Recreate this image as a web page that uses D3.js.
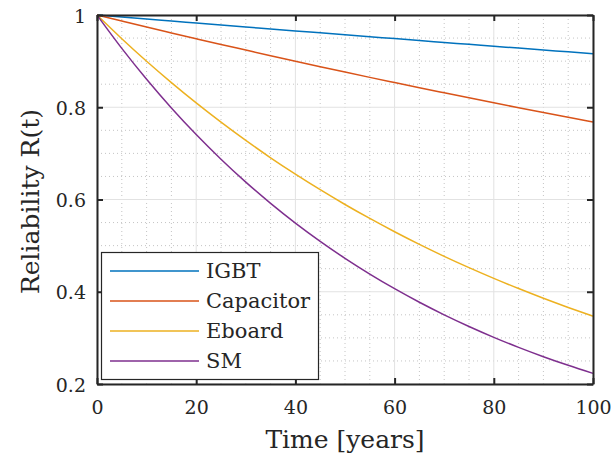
<!DOCTYPE html>
<html>
<head>
<meta charset="utf-8">
<script src="https://cdn.jsdelivr.net/npm/d3@7"></script>
<style>
  html, body { margin: 0; padding: 0; background: #fff; }
  svg { display: block; }
  svg text { font-family: "DejaVu Serif"; }
</style>
</head>
<body>
<svg id="chart" width="611" height="457"></svg>
<script>
// ---- data ----
const years = [0, 5, 10, 15, 20, 25, 30, 35, 40, 45, 50, 55, 60, 65, 70, 75, 80, 85, 90, 95, 100];
const igbt = [1, 0.9956, 0.9913, 0.9869, 0.9826, 0.9783, 0.9740, 0.9698, 0.9655, 0.9613, 0.9571, 0.9529, 0.9488, 0.9446, 0.9405, 0.9364, 0.9323, 0.9282, 0.9241, 0.9201, 0.916];
const capacitor = [1, 0.9869, 0.9739, 0.9612, 0.9486, 0.9361, 0.9239, 0.9117, 0.8998, 0.8880, 0.8763, 0.8648, 0.8535, 0.8423, 0.8313, 0.8204, 0.8096, 0.7990, 0.7885, 0.7782, 0.768];
const eboard = [1, 0.9485, 0.8996, 0.8533, 0.8093, 0.7676, 0.7280, 0.6905, 0.6550, 0.6212, 0.5892, 0.5589, 0.5301, 0.5027, 0.4768, 0.4523, 0.4290, 0.4069, 0.3859, 0.3660, 0.347];
const sm = [1, 0.9277, 0.8607, 0.7985, 0.7408, 0.6873, 0.6376, 0.5916, 0.5488, 0.5092, 0.4724, 0.4383, 0.4066, 0.3772, 0.3499, 0.3247, 0.3012, 0.2794, 0.2592, 0.2405, 0.223];
const seriesNames = ["IGBT", "Capacitor", "Eboard", "SM"];
const seriesColors = ["#0072BD", "#D95319", "#EDB120", "#7E2F8E"];
const xTicks = [0, 20, 40, 60, 80, 100];
const yTicks = [0.2, 0.4, 0.6, 0.8, 1];
const yTickLabels = ["0.2", "0.4", "0.6", "0.8", "1"];
const xLabel = "Time [years]";
const yLabel = "Reliability R(t)";

const seriesData = [igbt, capacitor, eboard, sm];

// ---- layout ----
const svg = d3.select("#chart");
const L = 97, R = 593, T = 15, B = 384;
const x = d3.scaleLinear().domain([0, 100]).range([L, R]);
const y = d3.scaleLinear().domain([0.2, 1]).range([B, T]);
const axisColor = "#262626";

// minor grid
const xMinor = d3.range(0, 101, 5).filter(v => v % 20 !== 0);
const yMinor = d3.range(0.2, 1.0001, 0.05).filter(v => Math.abs(v * 5 - Math.round(v * 5)) > 1e-6);
const gGrid = svg.append("g");
gGrid.selectAll("line.xmin").data(xMinor).join("line")
  .attr("x1", d => x(d)).attr("x2", d => x(d)).attr("y1", T).attr("y2", B)
  .attr("stroke", "#c4c4c4").attr("stroke-width", 1).attr("stroke-dasharray", "1,3");
gGrid.selectAll("line.ymin").data(yMinor).join("line")
  .attr("y1", d => y(d)).attr("y2", d => y(d)).attr("x1", L).attr("x2", R)
  .attr("stroke", "#c4c4c4").attr("stroke-width", 1).attr("stroke-dasharray", "1,3");
// major grid
gGrid.selectAll("line.xmaj").data(xTicks).join("line")
  .attr("x1", d => x(d)).attr("x2", d => x(d)).attr("y1", T).attr("y2", B)
  .attr("stroke", "#e2e2e2").attr("stroke-width", 1);
gGrid.selectAll("line.ymaj").data(yTicks).join("line")
  .attr("y1", d => y(d)).attr("y2", d => y(d)).attr("x1", L).attr("x2", R)
  .attr("stroke", "#e2e2e2").attr("stroke-width", 1);

// lines
const line = d3.line().x((d, i) => x(years[i])).y(d => y(d)).curve(d3.curveMonotoneX);
svg.append("g").selectAll("path").data(seriesData).join("path")
  .attr("d", d => line(d))
  .attr("fill", "none")
  .attr("stroke", (d, i) => seriesColors[i])
  .attr("stroke-width", 1.5);

// axes
const tickLen = 6;
const xAxisB = d3.axisBottom(x).tickValues(xTicks).tickSizeInner(-tickLen).tickSizeOuter(0).tickPadding(17).tickFormat(d3.format("d"));
const xAxisT = d3.axisTop(x).tickValues(xTicks).tickSizeInner(-tickLen).tickSizeOuter(0).tickFormat("");
const yAxisL = d3.axisLeft(y).tickValues(yTicks).tickSizeInner(-tickLen).tickSizeOuter(0).tickPadding(11).tickFormat((d, i) => yTickLabels[i]);
const yAxisR = d3.axisRight(y).tickValues(yTicks).tickSizeInner(-tickLen).tickSizeOuter(0).tickFormat("");

function styleAxis(g) {
  g.attr("font-family", null).attr("font-size", 19);
  g.select(".domain").attr("stroke", axisColor).attr("stroke-width", 2);
  g.selectAll(".tick line").attr("stroke", axisColor).attr("stroke-width", 2);
  g.selectAll(".tick text").attr("fill", axisColor);
}
svg.append("g").attr("transform", `translate(0,${B})`).call(xAxisB).call(styleAxis)
  .selectAll(".tick text").attr("dy", "0.71em");
svg.append("g").attr("transform", `translate(0,${T})`).call(xAxisT).call(styleAxis);
svg.append("g").attr("transform", `translate(${L},0)`).call(yAxisL).call(styleAxis)
  .selectAll(".tick text").attr("dy", "0.38em");
svg.append("g").attr("transform", `translate(${R},0)`).call(yAxisR).call(styleAxis);

// axis labels
svg.append("text").attr("x", (L + R) / 2).attr("y", 448).attr("text-anchor", "middle")
  .attr("font-size", 25).attr("fill", axisColor).text(xLabel);
svg.append("text").attr("transform", `translate(39,${(T + B) / 2 + 2}) rotate(-90)`).attr("text-anchor", "middle")
  .attr("font-size", 25).attr("fill", axisColor).text(yLabel);

// legend
const lg = svg.append("g");
lg.append("rect").attr("x", 101.5).attr("y", 252.5).attr("width", 217).attr("height", 127)
  .attr("fill", "#fff").attr("stroke", axisColor).attr("stroke-width", 1.2);
const rows = lg.selectAll("g.row").data(seriesNames).join("g")
  .attr("transform", (d, i) => `translate(0,${271 + i * 30})`);
rows.append("line").attr("x1", 110).attr("x2", 199).attr("y1", 0).attr("y2", 0)
  .attr("stroke", (d, i) => seriesColors[i]).attr("stroke-width", 1.5);
rows.append("text").attr("x", 206).attr("y", 7)
  .attr("font-size", 21).attr("fill", axisColor).text(d => d);
</script>
</body>
</html>
